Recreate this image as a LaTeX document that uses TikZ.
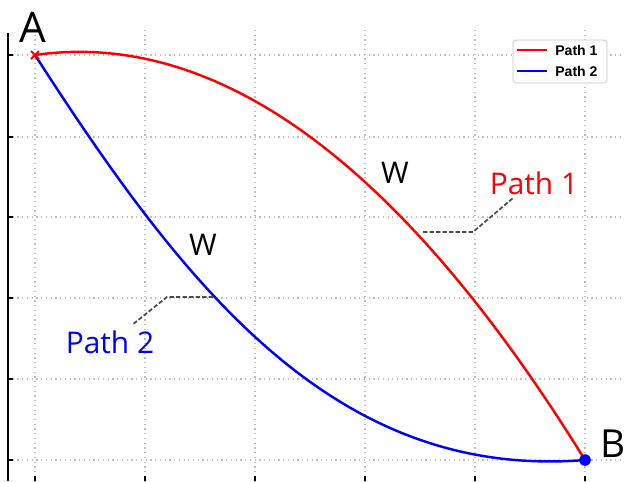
\documentclass[tikz,border=0pt]{standalone}
\usepackage{fontspec}
\setmainfont{Liberation Sans}
\newfontfamily\handfont{Open Sans}
\usetikzlibrary{arrows.meta,positioning,calc}

\begin{document}
\begin{tikzpicture}[x=0.02cm, y=-0.02cm,
    gridline/.style={gray!50, dotted, line width=0.7pt},
    curve/.style={line width=1.4pt},
    leader/.style={black!70, line width=1pt, dash pattern=on 2.5pt off 1.2pt},
    hand/.style={font=\handfont\fontsize{17}{17}\selectfont, inner sep=0pt},
    legtext/.style={font=\fontsize{8}{8}\selectfont\bfseries, anchor=west, inner sep=0pt}
]
\useasboundingbox (0,0) rectangle (625,481);

% grid and ticks
\foreach \gx in {35,145,255,365,475,585} {
  \draw[gridline] (\gx,30) -- (\gx,481);
  \draw[thick] (\gx,476) -- (\gx,481);
}
\foreach \gy in {55,137,217,298,379,460} {
  \draw[gridline] (8,\gy) -- (625,\gy);
  \draw[thick] (8,\gy) -- (13,\gy);
}
\draw[line width=1pt] (8,33) -- (8,481);

% end points
\coordinate (A) at (35,55);
\coordinate (B) at (585,460);

% the two paths
\draw[curve, red] (A) .. controls (218,29) and (402,164) .. (B);
\draw[curve, blue] (A) .. controls (185,288) and (335,480) .. (B);

\draw[red, line width=1.2pt] ($(A)+(-4,-4)$) -- ($(A)+(4,4)$)
  ($(A)+(-4,4)$) -- ($(A)+(4,-4)$);
\fill[blue] (B) circle (3.3pt);

% labels
\node[hand, font=\handfont\fontsize{24}{24}\selectfont] (labA) at (33,27) {A};
\node[hand, font=\handfont\fontsize{22}{22}\selectfont, anchor=west] (labB) at (600,444) {B};
\node[hand] (wone) at (395,173) {W};
\node[hand] (wtwo) at (203,245) {W};
\node[hand, red] (pathone) at (534,183) {Path 1};
\node[hand, blue] (pathtwo) at (110,342) {Path 2};

% leaders
\coordinate (r1) at (423,232);
\coordinate (r1k) at (473,232);
\coordinate (r1e) at (513,198);
\coordinate (b1) at (213,297);
\coordinate (b1k) at (167,297);
\coordinate (b1e) at (132,325);
\draw[leader] (r1) -- (r1k) -- (r1e);
\draw[leader] (b1) -- (b1k) -- (b1e);

% legend
\node[draw=gray!45, rounded corners=2pt, fill=white, minimum width=1.88cm,
  minimum height=0.86cm] (legend) at (560,61.5) {};
\coordinate (lr1) at (517,50);
\coordinate (lr2) at (547,50);
\coordinate (lb1) at (517,71);
\coordinate (lb2) at (547,71);
\draw[red, line width=1.2pt] (lr1) -- (lr2);
\draw[blue, line width=1.2pt] (lb1) -- (lb2);
\node[legtext] (legone) at (555,50) {Path 1};
\node[legtext] (legtwo) at (555,71) {Path 2};
\end{tikzpicture}
\end{document}
